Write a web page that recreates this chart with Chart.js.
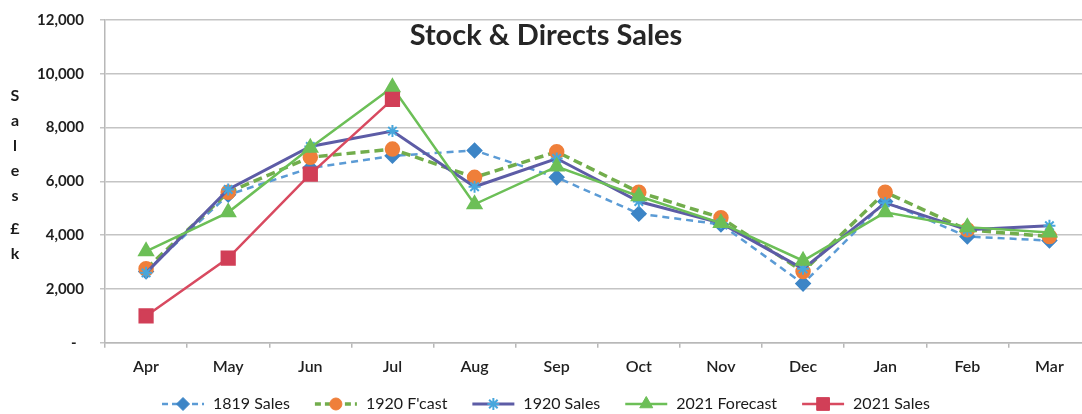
<!DOCTYPE html>
<html>
<head>
<meta charset="utf-8">
<script src="https://cdn.jsdelivr.net/npm/chart.js@4/dist/chart.umd.min.js"></script>
<style>
  html, body { margin: 0; padding: 0; background: #fff; overflow: hidden; }
  #c { display: block; margin-top: -5px; }
</style>
</head>
<body>
<canvas id="c" width="1102" height="419"></canvas>
<script>
const months = ['Apr','May','Jun','Jul','Aug','Sep','Oct','Nov','Dec','Jan','Feb','Mar'];
const sales1819 = [2650, 5500, 6500, 6950, 7150, 6150, 4800, 4400, 2200, 5250, 3950, 3800];
const fcast1920 = [2750, 5600, 6900, 7200, 6150, 7100, 5600, 4650, 2650, 5600, 4200, 3950];
const sales1920 = [2600, 5700, 7300, 7870, 5800, 6850, 5250, 4450, 2750, 5200, 4200, 4350];
const forecast2021 = [3400, 4850, 7250, 9500, 5150, 6550, 5450, 4450, 3050, 4850, 4300, 4100];
const sales2021 = [1000, 3150, 6270, 9050, null, null, null, null, null, null, null, null];
const seriesNames = ['1819 Sales', "1920 F'cast", '1920 Sales', '2021 Forecast', '2021 Sales'];
const chartTitle = 'Stock & Directs Sales';
const yTitleLetters = ['S','a','l','e','s','','£','k'];
const yMin = 0, yMax = 12000, yStep = 2000;

const FONT = 'Lato, "Open Sans", "DejaVu Sans", sans-serif';
const OFF = 5; // canvas is shifted up by this many px

const datasets = [
  { label: seriesNames[0], data: sales1819, borderColor: '#5b9bd5', backgroundColor: '#3d85c6',
    pointBorderColor: '#3d85c6', borderWidth: 2.5, borderDash: [7,5], pointStyle: 'rectRot', pointRadius: 6.5, order: 4 },
  { label: seriesNames[1], data: fcast1920, borderColor: '#72ad4c', backgroundColor: '#ef7f3a',
    pointBorderColor: '#ef7f3a', borderWidth: 3.5, borderDash: [9,5], pointStyle: 'circle', pointRadius: 6, order: 3 },
  { label: seriesNames[2], data: sales1920, borderColor: '#5d5ca6', backgroundColor: '#47a6dc',
    pointBorderColor: '#47a6dc', borderWidth: 3, pointStyle: 'star', pointRadius: 6, pointBorderWidth: 2, order: 2 },
  { label: seriesNames[3], data: forecast2021, borderColor: '#6cbf57', backgroundColor: '#6cbf57',
    pointBorderColor: '#6cbf57', borderWidth: 2.5, pointStyle: 'triangle', pointRadius: 7.5, order: 1 },
  { label: seriesNames[4], data: sales2021, borderColor: '#d84a60', backgroundColor: '#d13f57',
    pointBorderColor: '#d13f57', borderWidth: 2.5, pointStyle: 'rect', pointRadius: 9, order: 0 }
];

function drawMarker(ctx, ds, x, y) {
  ctx.save();
  ctx.fillStyle = ds.backgroundColor;
  ctx.strokeStyle = ds.pointBorderColor;
  ctx.lineWidth = ds.pointBorderWidth || 1;
  Chart.helpers.drawPoint(ctx, { pointStyle: ds.pointStyle, radius: ds.pointRadius, rotation: 0, borderWidth: ds.pointBorderWidth || 1 }, x, y);
  ctx.restore();
}

const decor = {
  id: 'decor',
  afterDraw(chart) {
    const ctx = chart.ctx;
    ctx.save();
    // title
    ctx.fillStyle = '#262626';
    ctx.font = 'bold 29px ' + FONT;
    ctx.textAlign = 'center';
    ctx.textBaseline = 'middle';
    ctx.fillText(chartTitle, 546, 36 + OFF);
    // vertical y-axis title letters
    ctx.font = 'bold 16px ' + FONT;
    ctx.fillStyle = '#1a1a1a';
    let ly = 96 + OFF;
    yTitleLetters.forEach(ch => {
      if (ch) ctx.fillText(ch, 15, ly);
      ly += ch ? 25 : 8;
    });
    // legend
    ctx.font = '16px ' + FONT;
    const markW = 42, gapText = 9, gapItem = 25;
    const widths = datasets.map(d => markW + gapText + ctx.measureText(d.label).width);
    const total = widths.reduce((a,b)=>a+b,0) + gapItem*(datasets.length-1);
    let x = 546 - total/2;
    const y = 404 + OFF;
    datasets.forEach((ds, i) => {
      ctx.save();
      ctx.strokeStyle = ds.borderColor;
      ctx.lineWidth = ds.borderWidth;
      ctx.setLineDash(ds.borderDash ? [6,4] : []);
      ctx.beginPath();
      ctx.moveTo(x, y);
      ctx.lineTo(x + markW, y);
      ctx.stroke();
      ctx.setLineDash([]);
      drawMarker(ctx, ds, x + markW/2, y);
      ctx.restore();
      ctx.fillStyle = '#1a1a1a';
      ctx.textAlign = 'left';
      ctx.textBaseline = 'middle';
      ctx.fillText(ds.label, x + markW + gapText, y);
      x += widths[i] + gapItem;
    });
    ctx.restore();
  }
};

new Chart(document.getElementById('c'), {
  type: 'line',
  data: { labels: months, datasets: datasets.map(d => Object.assign({ tension: 0, fill: false, spanGaps: false,
          pointBackgroundColor: d.backgroundColor, pointHoverRadius: d.pointRadius }, d)) },
  options: {
    responsive: false,
    maintainAspectRatio: false,
    animation: false,
    layout: { padding: { left: 21, right: 4, top: 14, bottom: 29 } },
    plugins: { legend: { display: false }, tooltip: { enabled: false }, title: { display: false } },
    scales: {
      x: {
        offset: true,
        grid: { display: true, drawOnChartArea: false, drawTicks: true, tickLength: 5, offset: true, color: '#b8b8b8', lineWidth: 1.5 },
        border: { display: true, color: '#b8b8b8', width: 1.5 },
        ticks: { color: '#1f1f1f', font: { family: FONT, size: 16, weight: '600' }, padding: 9, maxRotation: 0, autoSkip: false }
      },
      y: {
        min: yMin, max: yMax,
        grid: { color: '#c4c4c4', lineWidth: 1.5, drawTicks: true, tickLength: 5 },
        border: { display: true, color: '#b8b8b8', width: 1.5 },
        ticks: { stepSize: yStep, color: '#1f1f1f', padding: 16, font: { family: FONT, size: 15, weight: 'bold' },
          callback: v => v === 0 ? '-  ' : v.toLocaleString('en-GB') }
      }
    }
  },
  plugins: [decor]
});
</script>
</body>
</html>
